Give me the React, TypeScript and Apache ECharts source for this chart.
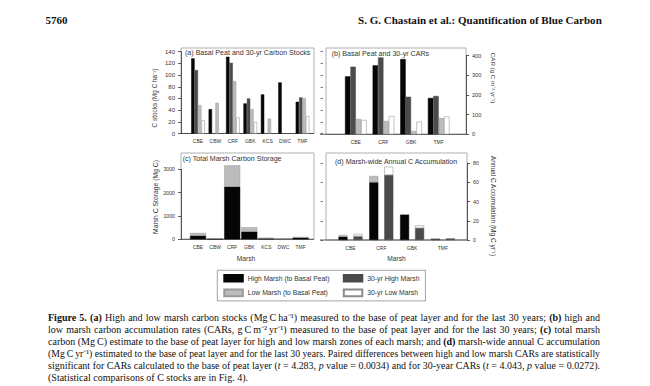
import React, { useEffect, useRef } from "react";
import * as echarts from "echarts";

// ---------- data ----------
const sitesAll = ["CBE", "CBW", "CRF", "GBK", "KCS", "DWC", "TMF"];
const sitesCar = ["CBE", "CRF", "GBK", "TMF"];

// (a) carbon stocks, Mg C ha-1
const stockHighBasal = [128.6, 41.7, 131.4, 51.4, 66.9, 87.4, 54.3];
const stockHigh30 = [108.6, null, 121.0, 60.0, null, null, 61.7];
const stockLowBasal = [48.6, 52.6, 89.7, 41.7, 25.5, null, 60.6];
const stockLow30 = [22.9, null, 27.4, 20.0, null, null, 29.7];

// (b) carbon accumulation rates, g C m-2 yr-1
const carHighBasal = [295, 351, 383, 185];
const carHigh30 = [344, 391, 191, 195];
const carLowBasal = [78, 68, 17, 83];
const carLow30 = [73, 93, 64, 91];

// (c) total marsh carbon storage, Mg C
const storageHigh = [157, 29, 2257, 329, 43, 8, 71];
const storageLow = [114, 6, 914, 185, 12, 3, 29];

// (d) marsh-wide annual C accumulation, Mg C yr-1
const annualHighBasal = [3.5, 60.2, 26.4, 1.0];
const annualLowBasal = [1.7, 6.6, 0.3, 0.4];
const annualHigh30 = [3.8, 67.8, 12.5, 1.4];
const annualLow30 = [2.5, 8.7, 2.8, 0.3];

const NAME_HB = "High Marsh (to Basal Peat)";
const NAME_H30 = "30-yr High Marsh";
const NAME_LB = "Low Marsh (to Basal Peat)";
const NAME_L30 = "30-yr Low Marsh";

const captionLines = [
  "**Figure** **5.** **(a)** High and low marsh carbon stocks (Mg\u2009C\u2009ha⁻¹) measured to the base of peat layer and for the last 30 years; **(b)** high and",
  "low marsh carbon accumulation rates (CARs, g\u2009C\u2009m⁻²\u2009yr⁻¹) measured to the base of peat layer and for the last 30 years; **(c)** total marsh",
  "carbon (Mg\u2009C) estimate to the base of peat layer for high and low marsh zones of each marsh; and **(d)** marsh-wide annual C accumulation",
  "(Mg\u2009C\u2009yr⁻¹) estimated to the base of peat layer and for the last 30 years. Paired differences between high and low marsh CARs are statistically",
  "significant for CARs calculated to the base of peat layer (_t_ = 4.283, _p_ value = 0.0034) and for 30-year CARs (_t_ = 4.043, _p_ value = 0.0272).",
  "(Statistical comparisons of C stocks are in Fig. 4).",
];

// ---------- styles ----------
const SERIF = '"Liberation Serif", "Times New Roman", serif';
const SANS = '"Liberation Sans", Arial, sans-serif';
const C_HB = "#060606";
const C_H30 = "#4b4b4b";
const C_LB = "#bcbcbc";
const C_L30 = "#ffffff";
const INK = "#333333";

function borderOf(color: string) {
  if (color === C_L30) return "#8a8a8a";
  if (color === C_LB) return "#9a9a9a";
  return color;
}

function bar(name: string, data: any[], color: string, xi: number, yi: number, extra: any = {}) {
  return {
    type: "bar",
    name,
    data,
    xAxisIndex: xi,
    yAxisIndex: yi,
    silent: true,
    emphasis: { disabled: true },
    itemStyle: { color, borderColor: borderOf(color), borderWidth: 0.5 },
    ...extra,
  };
}

function catAxis(gridIndex: number, data: string[]) {
  return {
    type: "category",
    gridIndex,
    data,
    axisLine: { show: false },
    axisTick: { show: false },
    axisLabel: { fontSize: 5, color: INK, margin: 5, interval: 0, fontFamily: SANS },
    splitLine: { show: false },
  };
}

function valAxis(
  gridIndex: number,
  position: string,
  max: number,
  interval: number,
  offset: number,
  labelSize: number,
  showLine = true,
  showLabel = true,
  tickLen = 3
) {
  return {
    type: "value",
    gridIndex,
    position,
    min: 0,
    max,
    interval,
    offset,
    axisLine: { show: showLine, lineStyle: { color: INK, width: 0.8 } },
    axisTick: { show: true, length: tickLen, lineStyle: { color: INK, width: 0.8 } },
    axisLabel: {
      show: showLabel,
      fontSize: labelSize,
      color: INK,
      margin: 6,
      fontFamily: SANS,
      formatter: (v: number) => String(v),
    },
    splitLine: { show: false },
  };
}

function txt(text: string, x: number, y: number, font: string, opts: any = {}) {
  const { align = "left", rotation = 0, fill = INK, scaleX = 1 } = opts;
  return {
    type: "text",
    x,
    y,
    rotation,
    scaleX,
    silent: true,
    style: {
      text,
      font,
      fill,
      textAlign: align,
      align,
      textVerticalAlign: "middle",
      verticalAlign: "middle",
    },
  };
}

function parseSegments(tok: string) {
  const parts = tok.split(/(\*\*.+?\*\*|_.+?_)/).filter((p) => p.length > 0);
  return parts.map((p) => {
    if (p.startsWith("**") && p.endsWith("**")) return { text: p.slice(2, -2), weight: "bold", style: "normal" };
    if (p.startsWith("_") && p.endsWith("_") && p.length > 2) return { text: p.slice(1, -1), weight: "normal", style: "italic" };
    return { text: p, weight: "normal", style: "normal" };
  });
}

function buildTexts(): any[] {
  const ctx = document.createElement("canvas").getContext("2d") as CanvasRenderingContext2D;
  const measure = (t: string, font: string) => {
    ctx.font = font;
    return ctx.measureText(t).width;
  };
  const els: any[] = [];

  // header
  const hFont = `normal bold 11px ${SERIF}`;
  els.push(txt("5760", 45.5, 20, hFont, { fill: "#111" }));
  const hr = "S. G. Chastain et al.: Quantification of Blue Carbon";
  const hrW = measure(hr, hFont);
  els.push(txt(hr, 358, 20, hFont, { fill: "#111", scaleX: 244 / hrW }));

  // caption
  const size = 10;
  const x0 = 48;
  const x1 = 600;
  const target = x1 - x0;
  const fontOf = (w: string, s: string) => `${s} ${w} ${size}px ${SERIF}`;
  const spaceW = measure(" ", fontOf("normal", "normal"));
  captionLines.forEach((line, li) => {
    const tokens = line.split(" ").map((tok) =>
      parseSegments(tok).map((seg) => ({ ...seg, w: measure(seg.text, fontOf(seg.weight, seg.style)) }))
    );
    const tokW = tokens.map((t) => t.reduce((a, s) => a + s.w, 0));
    const sum = tokW.reduce((a, b) => a + b, 0);
    const n = tokens.length;
    const natural = sum + spaceW * (n - 1);
    const last = li === captionLines.length - 1;
    let gap = spaceW;
    let scale = 1;
    if (!last) {
      if (natural <= target) gap = (target - sum) / (n - 1);
      else scale = target / natural;
    }
    let pos = 0;
    const y = 317 + li * 12;
    tokens.forEach((t) => {
      t.forEach((seg) => {
        els.push(txt(seg.text, x0 + pos * scale, y, fontOf(seg.weight, seg.style), { fill: "#111", scaleX: scale }));
        pos += seg.w;
      });
      pos += gap;
    });
  });
  return els;
}

function frames(): any[] {
  const light = { fill: "none", stroke: "#9c9c9c", lineWidth: 0.8 };
  const dark = { stroke: INK, lineWidth: 0.8 };
  const rect = (x: number, y: number, w: number, h: number) => ({
    type: "rect",
    silent: true,
    shape: { x, y, width: w, height: h },
    style: light,
    z: -1,
  });
  const line = (x1: number, x2: number, y: number) => ({
    type: "line",
    silent: true,
    shape: { x1, y1: y, x2, y2: y },
    style: dark,
  });
  return [
    rect(181, 48, 133, 85.5),
    rect(326, 48, 140, 86.3),
    rect(181, 153, 133, 86.3),
    rect(326, 153, 141, 87),
    line(181, 314, 133.5),
    line(320, 466, 134.3),
    line(181, 314, 239.3),
    line(320, 467, 240),
  ];
}

function annotations(): any[] {
  const f = (s: number) => `normal normal ${s}px ${SANS}`;
  return [
    txt("(a) Basal Peat and 30-yr Carbon Stocks", 185, 53.3, f(7.1)),
    txt("(b) Basal Peat and 30-yr CARs", 331.7, 54, f(7.1)),
    txt("(c) Total Marsh Carbon Storage", 182.7, 159, f(7.1)),
    txt("(d) Marsh-wide Annual C Accumulation", 335, 161.7, f(7.1)),
    txt("C stocks (Mg C ha⁻¹)", 154, 98, f(6.4), { align: "center", rotation: Math.PI / 2 }),
    txt("CAR (g C m⁻² yr⁻¹)", 493.5, 78, f(6.2), { align: "center", rotation: -Math.PI / 2 }),
    txt("Marsh C Storage (Mg C)", 155.8, 197, f(6.8), { align: "center", rotation: Math.PI / 2 }),
    txt("Annual C Accumulation (Mg C yr⁻¹)", 493, 206, f(6.5), { align: "center", rotation: -Math.PI / 2 }),
    txt("Marsh", 246, 258, f(6.6), { align: "center" }),
    txt("Marsh", 396.5, 258.3, f(6.6), { align: "center" }),
  ];
}

export default function App() {
  const ref = useRef<HTMLDivElement>(null);

  useEffect(() => {
    if (!ref.current) return;
    const chart = echarts.init(ref.current, null, { renderer: "svg" });

    const option: any = {
      animation: false,
      backgroundColor: "#ffffff",
      textStyle: { fontFamily: SANS },
      grid: [
        { left: 189.3, top: 51.7, width: 121.9, height: 81.8 },
        { left: 342, top: 55.7, width: 110.5, height: 78.6 },
        { left: 189.5, top: 169.3, width: 119.6, height: 70 },
        { left: 335.1, top: 163.3, width: 123.2, height: 76.7 },
      ],
      xAxis: [catAxis(0, sitesAll), catAxis(1, sitesCar), catAxis(2, sitesAll), catAxis(3, sitesCar)],
      yAxis: [
        valAxis(0, "left", 140, 20, 8.3, 6),
        valAxis(0, "right", 140, 20, 9.5, 6, false, false, 2),
        valAxis(1, "right", 400, 100, 13.5, 5.6),
        valAxis(2, "left", 3000, 1000, 8.5, 5.2),
        valAxis(3, "right", 80, 20, 8.7, 5.3),
        valAxis(3, "left", 80, 20, 12.4, 5.3, false, false, 2),
      ],
      legend: {
        data: [
          { name: NAME_HB, textStyle: { width: 89 } },
          { name: NAME_H30 },
          { name: NAME_LB, textStyle: { width: 89 } },
          { name: NAME_L30 },
        ],
        left: 217.3,
        top: 270.3,
        width: 240,
        orient: "horizontal",
        icon: "rect",
        itemWidth: 18.5,
        itemHeight: 6.6,
        itemGap: 6,
        padding: [3.7, 6, 3.7, 6],
        borderColor: "#8c8c8c",
        borderWidth: 0.8,
        selectedMode: false,
        textStyle: { fontSize: 6.8, color: INK, fontFamily: SANS, lineHeight: 8 },
      },
      series: [
        // (a)
        bar(NAME_HB, stockHighBasal, C_HB, 0, 0, { barWidth: 3.4, barGap: "0%" }),
        bar(NAME_H30, stockHigh30, C_H30, 0, 0, { barWidth: 3.4, barGap: "0%" }),
        bar(NAME_LB, stockLowBasal, C_LB, 0, 0, { barWidth: 3.4, barGap: "0%" }),
        bar(NAME_L30, stockLow30, C_L30, 0, 0, { barWidth: 3.4, barGap: "0%" }),
        // (b)
        bar(NAME_HB, carHighBasal, C_HB, 1, 2, { barWidth: 5.4, barGap: "0%" }),
        bar(NAME_H30, carHigh30, C_H30, 1, 2, { barWidth: 5.4, barGap: "0%" }),
        bar(NAME_LB, carLowBasal, C_LB, 1, 2, { barWidth: 5.4, barGap: "0%" }),
        bar(NAME_L30, carLow30, C_L30, 1, 2, { barWidth: 5.4, barGap: "0%" }),
        // (c)
        bar(NAME_HB, storageHigh, C_HB, 2, 3, { stack: "storage", barWidth: 16, clip: false }),
        bar(NAME_LB, storageLow, C_LB, 2, 3, { stack: "storage", barWidth: 16, clip: false }),
        // (d)
        bar(NAME_HB, annualHighBasal, C_HB, 3, 4, { stack: "basal", barWidth: 9, barGap: "66.7%" }),
        bar(NAME_H30, annualHigh30, C_H30, 3, 4, { stack: "y30", barWidth: 9, barGap: "66.7%" }),
        bar(NAME_LB, annualLowBasal, C_LB, 3, 4, { stack: "basal", barWidth: 9, barGap: "66.7%" }),
        bar(NAME_L30, annualLow30, C_L30, 3, 4, { stack: "y30", barWidth: 9, barGap: "66.7%" }),
      ],
      graphic: { elements: [...frames(), ...annotations(), ...buildTexts()] },
    };

    chart.setOption(option);
    return () => chart.dispose();
  }, []);

  return (
    <div
      ref={ref}
      style={{ position: "absolute", left: 0, top: 0, width: 650, height: 386, background: "#fff" }}
    />
  );
}
